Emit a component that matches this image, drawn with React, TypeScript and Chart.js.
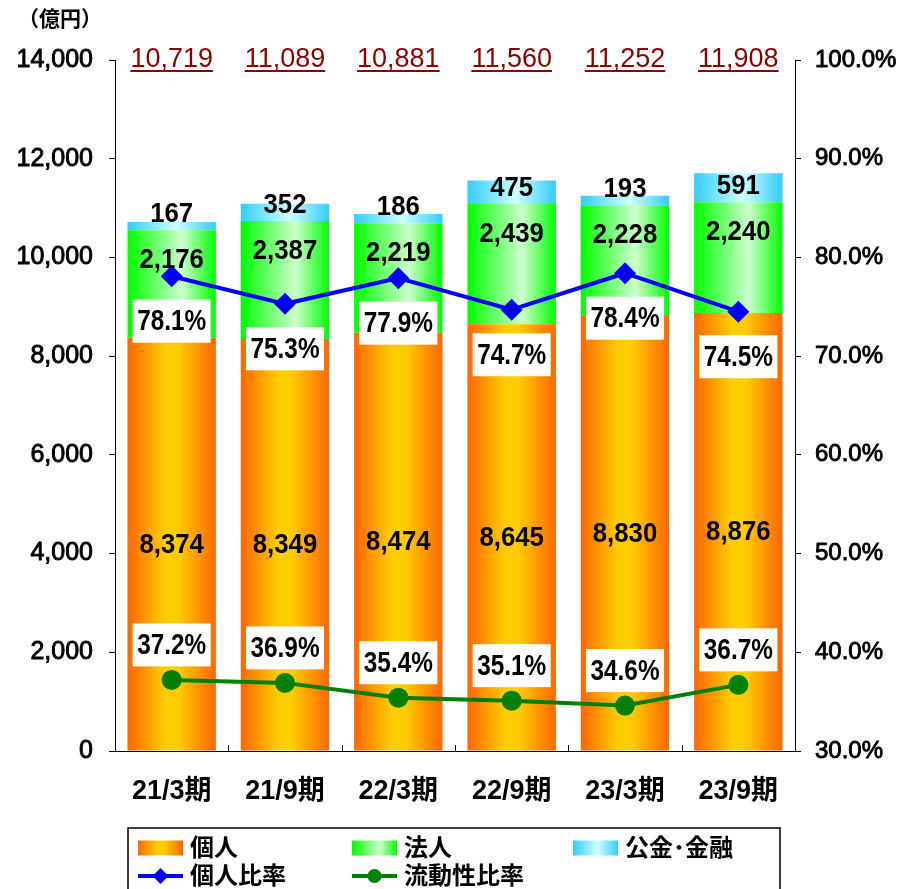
import React, { useEffect, useRef } from 'react';
import { Chart, registerables } from 'chart.js';
Chart.register(...registerables);

const categories = ['21/3期', '21/9期', '22/3期', '22/9期', '23/3期', '23/9期'];
const kojin = [8374, 8349, 8474, 8645, 8830, 8876];
const hojin = [2176, 2387, 2219, 2439, 2228, 2240];
const kokin = [167, 352, 186, 475, 193, 591];
const totals = [10719, 11089, 10881, 11560, 11252, 11908];
const kojinRatio = [78.1, 75.3, 77.9, 74.7, 78.4, 74.5];
const ryudoRatio = [37.2, 36.9, 35.4, 35.1, 34.6, 36.7];
const seriesNames = ['個人', '法人', '公金･金融', '個人比率', '流動性比率'];
const unitLabel = '（億円）';

const FONT = '"Liberation Sans", "Noto Sans CJK JP", sans-serif';
const CAT_PCT = 0.78;

const ORANGE_STOPS: [number, string][] = [[0, '#FF6600'], [0.42, '#FFCC00'], [0.58, '#FFCC00'], [1, '#FF6600']];
const GREEN_STOPS: [number, string][] = [[0, '#00FF00'], [0.62, '#CCFFCC'], [1, '#00FF00']];
const BLUE_STOPS: [number, string][] = [[0, '#33CCFF'], [0.55, '#CCFFFF'], [1, '#33CCFF']];

const fmt = (v: number) => v.toLocaleString('en-US');

function barGradient(stops: [number, string][]) {
  return (c: any) => {
    const chart = c.chart;
    const xs = chart.scales && chart.scales.x;
    if (!xs || c.type !== 'data' || !chart.chartArea) return stops[1][1];
    const cx = xs.getPixelForValue(c.dataIndex);
    const w = (xs.width / categories.length) * CAT_PCT;
    const g = chart.ctx.createLinearGradient(cx - w / 2, 0, cx + w / 2, 0);
    stops.forEach(([o, col]) => g.addColorStop(o, col));
    return g;
  };
}

function swatchGradient(ctx: CanvasRenderingContext2D, x: number, w: number, stops: [number, string][]) {
  const g = ctx.createLinearGradient(x, 0, x + w, 0);
  stops.forEach(([o, col]) => g.addColorStop(o, col));
  return g;
}

function narrowText(ctx: CanvasRenderingContext2D, text: string, x: number, y: number, sx: number) {
  ctx.save();
  ctx.translate(x, y);
  ctx.scale(sx, 1);
  ctx.fillText(text, 0, 0);
  ctx.restore();
}

const labelPlugin = {
  id: 'customLabels',
  afterDatasetsDraw(chart: any) {
    const ctx: CanvasRenderingContext2D = chart.ctx;
    const area = chart.chartArea;
    const xs = chart.scales.x;
    ctx.save();
    // inward x ticks at category boundaries
    ctx.strokeStyle = '#000';
    ctx.lineWidth = 1;
    const cw = xs.width / categories.length;
    for (let i = 1; i < categories.length; i++) {
      const x = Math.round(xs.left + cw * i) + 0.5;
      ctx.beginPath();
      ctx.moveTo(x, area.bottom);
      ctx.lineTo(x, area.bottom - 6);
      ctx.stroke();
    }

    ctx.textAlign = 'center';
    ctx.textBaseline = 'middle';
    ctx.fillStyle = '#000';
    ctx.font = `bold 28px ${FONT}`;
    const mK = chart.getDatasetMeta(0);
    const mH = chart.getDatasetMeta(1);
    const mB = chart.getDatasetMeta(2);
    mK.data.forEach((el: any, i: number) => {
      narrowText(ctx, fmt(kojin[i]), el.x, (el.y + el.base) / 2 + 1, 0.92);
    });
    mH.data.forEach((el: any, i: number) => {
      narrowText(ctx, fmt(hojin[i]), el.x, el.y + 30, 0.92);
    });
    mB.data.forEach((el: any, i: number) => {
      narrowText(ctx, fmt(kokin[i]), el.x, el.base - 16, 0.92);
    });

    // line labels in white boxes
    const boxW = 78, boxH = 43;
    ctx.font = `bold 29px ${FONT}`;
    const drawBox = (x: number, y: number, text: string) => {
      ctx.fillStyle = '#FFFFFF';
      ctx.fillRect(x - boxW / 2, y - boxH / 2, boxW, boxH);
      ctx.fillStyle = '#000';
      narrowText(ctx, text, x, y + 1, 0.84);
    };
    chart.getDatasetMeta(3).data.forEach((p: any, i: number) => {
      drawBox(p.x, p.y + 45, kojinRatio[i].toFixed(1) + '%');
    });
    chart.getDatasetMeta(4).data.forEach((p: any, i: number) => {
      drawBox(p.x, p.y - 35, ryudoRatio[i].toFixed(1) + '%');
    });
    ctx.restore();
  },
  afterDraw(chart: any) {
    const ctx: CanvasRenderingContext2D = chart.ctx;
    const area = chart.chartArea;
    const xs = chart.scales.x;
    ctx.save();
    // totals
    ctx.font = `27px ${FONT}`;
    ctx.textAlign = 'center';
    ctx.textBaseline = 'middle';
    ctx.fillStyle = '#8B0000';
    ctx.strokeStyle = '#8B0000';
    totals.forEach((t, i) => {
      const x = xs.getPixelForValue(i);
      const s = fmt(t);
      const w = ctx.measureText(s).width;
      ctx.fillText(s, x, area.top);
      ctx.lineWidth = 2;
      ctx.beginPath();
      ctx.moveTo(x - w / 2, area.top + 11);
      ctx.lineTo(x + w / 2, area.top + 11);
      ctx.stroke();
    });

    // unit label
    ctx.fillStyle = '#000';
    ctx.font = `bold 21px ${FONT}`;
    ctx.fillText(unitLabel, 60, 20);

    // legend
    const lx = 128, ly = 828, lw = 652, lh = 70;
    ctx.strokeStyle = '#000';
    ctx.lineWidth = 1.5;
    ctx.strokeRect(lx, ly, lw, lh);
    const cols = [138, 352, 573];
    const rows = [848, 876];
    const swW = 45, swH = 15;
    ctx.font = `bold 24px ${FONT}`;
    ctx.textAlign = 'left';
    ctx.textBaseline = 'middle';
    const stops = [ORANGE_STOPS, GREEN_STOPS, BLUE_STOPS];
    for (let k = 0; k < 3; k++) {
      const x = cols[k], y = rows[0];
      ctx.fillStyle = swatchGradient(ctx, x, swW, stops[k]);
      ctx.fillRect(x, y - swH / 2, swW, swH);
      ctx.fillStyle = '#000';
      ctx.fillText(seriesNames[k], x + swW + 7, y + 1);
    }
    const lineCols = ['#0000FF', '#008000'];
    for (let k = 0; k < 2; k++) {
      const x = cols[k], y = rows[1];
      ctx.strokeStyle = lineCols[k];
      ctx.lineWidth = 4;
      ctx.beginPath();
      ctx.moveTo(x, y);
      ctx.lineTo(x + swW, y);
      ctx.stroke();
      ctx.fillStyle = lineCols[k];
      const cx = x + swW / 2;
      if (k === 0) {
        ctx.beginPath();
        ctx.moveTo(cx, y - 8);
        ctx.lineTo(cx + 8, y);
        ctx.lineTo(cx, y + 8);
        ctx.lineTo(cx - 8, y);
        ctx.closePath();
        ctx.fill();
      } else {
        ctx.beginPath();
        ctx.arc(cx, y, 7, 0, Math.PI * 2);
        ctx.fill();
      }
      ctx.fillStyle = '#000';
      ctx.fillText(seriesNames[3 + k], x + swW + 7, y + 1);
    }
    ctx.restore();
  },
};

export default function App() {
  const ref = useRef<HTMLCanvasElement>(null);
  useEffect(() => {
    if (!ref.current) return;
    const chart = new Chart(ref.current, {
      type: 'bar',
      data: {
        labels: categories,
        datasets: [
          {
            type: 'bar', label: seriesNames[0], data: kojin, yAxisID: 'y', stack: 's', order: 2,
            backgroundColor: barGradient(ORANGE_STOPS) as any, borderWidth: 0,
            categoryPercentage: CAT_PCT, barPercentage: 1,
          },
          {
            type: 'bar', label: seriesNames[1], data: hojin, yAxisID: 'y', stack: 's', order: 2,
            backgroundColor: barGradient(GREEN_STOPS) as any, borderWidth: 0,
            categoryPercentage: CAT_PCT, barPercentage: 1,
          },
          {
            type: 'bar', label: seriesNames[2], data: kokin, yAxisID: 'y', stack: 's', order: 2,
            backgroundColor: barGradient(BLUE_STOPS) as any, borderWidth: 0,
            categoryPercentage: CAT_PCT, barPercentage: 1,
          },
          {
            type: 'line', label: seriesNames[3], data: kojinRatio, yAxisID: 'y1', order: 0,
            borderColor: '#0000FF', backgroundColor: '#0000FF', borderWidth: 4,
            pointStyle: 'rectRot', pointRadius: 11, pointBorderWidth: 0, tension: 0,
          },
          {
            type: 'line', label: seriesNames[4], data: ryudoRatio, yAxisID: 'y1', order: 1,
            borderColor: '#008000', backgroundColor: '#008000', borderWidth: 4,
            pointStyle: 'circle', pointRadius: 10, pointBorderWidth: 0, tension: 0,
          },
        ] as any,
      },
      options: {
        responsive: false,
        devicePixelRatio: 1,
        animation: false,
        layout: { padding: { top: 60, left: 0, right: 0, bottom: 0 } },
        plugins: { legend: { display: false }, tooltip: { enabled: false } },
        scales: {
          x: {
            stacked: true,
            grid: { display: false, drawTicks: false },
            border: { display: true, color: '#000', width: 1 },
            ticks: { color: '#000', font: { family: FONT, size: 27, weight: 'bold' }, padding: 24 },
            afterFit: (s: any) => { s.height = 138; },
          },
          y: {
            stacked: true, position: 'left', min: 0, max: 14000,
            grid: { drawOnChartArea: false, drawTicks: true, tickLength: 6, color: '#000' },
            border: { display: true, color: '#000', width: 1 },
            ticks: {
              stepSize: 2000, color: '#000', padding: 16, font: { family: FONT, size: 25 },
              textStrokeColor: '#000', textStrokeWidth: 0.9,
              callback: (v: any) => fmt(Number(v)),
            },
            afterFit: (s: any) => { s.width = 115; },
          },
          y1: {
            position: 'right', min: 30, max: 100,
            grid: { drawOnChartArea: false, drawTicks: true, tickLength: 6, color: '#000' },
            border: { display: true, color: '#000', width: 1 },
            ticks: {
              stepSize: 10, color: '#000', padding: 14, font: { family: FONT, size: 24 },
              textStrokeColor: '#000', textStrokeWidth: 0.9,
              callback: (v: any) => Number(v).toFixed(1) + '%',
            },
            afterFit: (s: any) => { s.width = 107; },
          },
        },
      } as any,
      plugins: [labelPlugin],
    });
    return () => chart.destroy();
  }, []);
  return (
    <div style={{ position: 'absolute', left: 0, top: 0, width: 902, height: 889 }}>
      <canvas ref={ref} width={902} height={889} />
    </div>
  );
}
